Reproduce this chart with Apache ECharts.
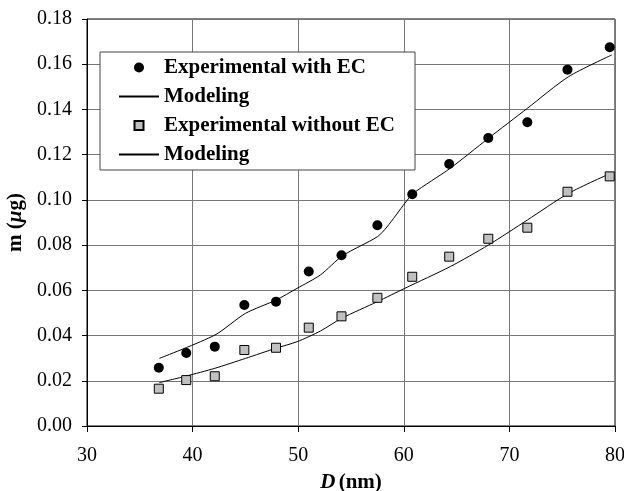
<!DOCTYPE html>
<html>
<head>
<meta charset="utf-8">
<script src="https://cdn.jsdelivr.net/npm/echarts@6/dist/echarts.min.js"></script>
<style>html,body{margin:0;padding:0;background:#fff;}#c{width:624px;height:491px;}</style>
</head>
<body>
<div id="c"></div>
<script>
// Experimental data
var expX = [36.8, 39.4, 42.1, 44.9, 47.9, 51.0, 54.1, 57.5, 60.8, 64.3, 68.0, 71.7, 75.5, 79.5];
var expWithEC = [0.0258, 0.0323, 0.0351, 0.0535, 0.0550, 0.0683, 0.0755, 0.0888, 0.1025, 0.1159, 0.1274, 0.1343, 0.1576, 0.1675];
var expWithoutEC = [0.0165, 0.0203, 0.0220, 0.0336, 0.0346, 0.0435, 0.0485, 0.0567, 0.0660, 0.0749, 0.0828, 0.0877, 0.1036, 0.1104];
// Modeling curves
var modelX1 = [36.85, 42.1, 45.0, 47.9, 49.9, 52.1, 54.2, 57.5, 58.4, 60.1, 60.9, 64.4, 68.0, 71.7, 75.6, 79.7];
var modelY1 = [0.0299, 0.0402, 0.0498, 0.0557, 0.0609, 0.0668, 0.0753, 0.0837, 0.0880, 0.0985, 0.1029, 0.1140, 0.1272, 0.1405, 0.1545, 0.1641];
var modelX2 = [36.85, 39.4, 42.1, 45.0, 47.9, 49.9, 52.1, 54.1, 57.5, 60.1, 64.4, 68.0, 71.7, 75.6, 79.7];
var modelY2 = [0.0192, 0.0221, 0.0255, 0.0299, 0.0344, 0.0373, 0.0420, 0.0476, 0.0550, 0.0609, 0.0705, 0.0800, 0.0911, 0.1029, 0.1120];
var legendNames = ['Experimental with EC', 'Modeling', 'Experimental without EC', 'Modeling '];

function zip(a, b) { return a.map(function (v, i) { return [v, b[i]]; }); }

var font = 'Liberation Serif';
var hidden = { color: 'rgba(0,0,0,0)', borderWidth: 0, opacity: 0 };
var chart = echarts.init(document.getElementById('c'), null, { renderer: 'canvas' });
chart.setOption({
  animation: false,
  backgroundColor: '#fff',
  grid: { left: 87, right: 9, top: 19, bottom: 65, show: true, borderColor: '#000', borderWidth: 1,
    containLabel: false, outerBoundsMode: 'none' },
  xAxis: {
    type: 'value', min: 30, max: 80, interval: 10,
    name: '{i|D} {b|(nm)}', nameLocation: 'middle', nameGap: 46,
    nameTextStyle: { rich: {
      i: { fontFamily: font, fontSize: 21, fontWeight: 'bold', fontStyle: 'italic', color: '#000' },
      b: { fontFamily: font, fontSize: 21, fontWeight: 'bold', color: '#000' } } },
    axisLine: { lineStyle: { color: '#000', width: 1 } },
    axisTick: { show: true, inside: false, length: 6, lineStyle: { color: '#000' } },
    axisLabel: { fontFamily: font, fontSize: 20, color: '#000', margin: 20 },
    splitLine: { show: true, lineStyle: { color: '#777', width: 1 } }
  },
  yAxis: {
    type: 'value', min: 0, max: 0.18, interval: 0.02,
    name: '{b|m (}{i|\u03bc}{b|g)}', nameLocation: 'middle', nameGap: 55,
    nameTextStyle: { rich: {
      i: { fontFamily: font, fontSize: 21, fontWeight: 'bold', fontStyle: 'italic', color: '#000' },
      b: { fontFamily: font, fontSize: 21, fontWeight: 'bold', color: '#000' } } },
    axisLine: { show: true, lineStyle: { color: '#000', width: 1 } },
    axisTick: { show: true, inside: false, length: 5, lineStyle: { color: '#000' } },
    axisLabel: { fontFamily: font, fontSize: 20, color: '#000', margin: 15,
      formatter: function (v) { return v.toFixed(2); } },
    splitLine: { show: true, lineStyle: { color: '#777', width: 1 } }
  },
  legend: {
    orient: 'vertical', left: 100, top: 52,
    padding: [5, 20, 5, 18],
    itemWidth: 40, itemHeight: 10, itemGap: 8,
    backgroundColor: '#fff', borderColor: '#444', borderWidth: 1,
    textStyle: { fontFamily: font, fontSize: 21, fontWeight: 'bold', color: '#000' },
    data: [
      { name: legendNames[0], icon: 'circle' },
      { name: legendNames[1], itemStyle: hidden },
      { name: legendNames[2], icon: 'path://M0,0M10,10M0.5,0.5H9.5V9.5H0.5Z' },
      { name: legendNames[3], itemStyle: hidden }
    ]
  },
  series: [
    { name: legendNames[1], type: 'line', data: zip(modelX1, modelY1), symbol: 'none', smooth: 0.25,
      lineStyle: { color: '#000', width: 1 }, itemStyle: { color: '#000' }, z: 3 },
    { name: legendNames[3], type: 'line', data: zip(modelX2, modelY2), symbol: 'none', smooth: 0.25,
      lineStyle: { color: '#000', width: 1 }, itemStyle: { color: '#000' }, z: 3 },
    { name: legendNames[0], type: 'scatter', data: zip(expX, expWithEC), symbol: 'circle', symbolSize: 10,
      itemStyle: { color: '#000', opacity: 1 }, z: 4 },
    { name: legendNames[2], type: 'scatter', data: zip(expX, expWithoutEC), symbol: 'rect', symbolSize: 9,
      itemStyle: { color: '#c0c0c0', borderColor: '#000', borderWidth: 1, opacity: 1 }, z: 4 }
  ]
});
</script>
</body>
</html>
